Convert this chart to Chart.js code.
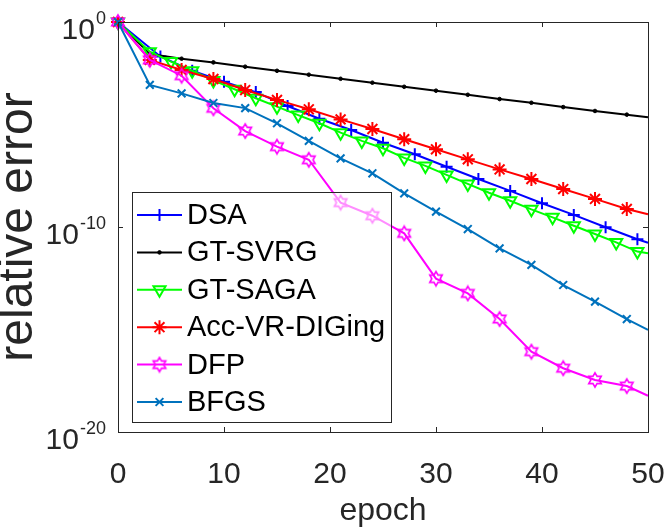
<!DOCTYPE html>
<html>
<head>
<meta charset="utf-8">
<script src="https://cdn.jsdelivr.net/npm/chart.js@4.4.1/dist/chart.umd.min.js"></script>
<style>
  html, body { margin: 0; padding: 0; background: #fff; }
  #wrap { width: 667px; height: 527px; position: relative; }
</style>
</head>
<body>
<div id="wrap"><canvas id="chart"></canvas></div>
<script>
// values, stored as log10(relative error)
const dsaEpochs = [0, 4, 7, 10, 13, 16, 19, 22, 25, 28, 31, 34, 37, 40, 43, 46, 49, 50];
const dsaLog = [0, -1.68, -2.38, -2.91, -3.42, -4.10, -4.72, -5.27, -5.89, -6.45, -7.06, -7.66, -8.24, -8.84, -9.41, -10.01, -10.60, -10.77];

const every3 = [0, 3, 6, 9, 12, 15, 18, 21, 24, 27, 30, 33, 36, 39, 42, 45, 48, 50];
const svrgLog = [0, -1.56, -1.79, -1.97, -2.18, -2.38, -2.57, -2.77, -2.96, -3.16, -3.35, -3.55, -3.76, -3.94, -4.15, -4.34, -4.52, -4.65];

const sagaEpochs = [0, 3, 5, 7, 9, 11, 13, 15, 17, 19, 21, 23, 25, 27, 29, 31, 33, 35, 37, 39, 41, 43, 45, 47, 49, 50];
const sagaLog = [0, -1.45, -1.93, -2.38, -2.85, -3.28, -3.72, -4.13, -4.54, -4.94, -5.40, -5.80, -6.16, -6.63, -7.02, -7.46, -7.90, -8.33, -8.72, -9.14, -9.53, -9.94, -10.34, -10.75, -11.20, -11.28];

const accLog = [0, -1.85, -2.34, -2.78, -3.32, -3.80, -4.26, -4.75, -5.22, -5.72, -6.21, -6.70, -7.19, -7.66, -8.15, -8.63, -9.12, -9.38];
const dfpLog = [0, -1.85, -2.62, -4.21, -5.32, -6.08, -6.72, -8.81, -9.45, -10.31, -12.52, -13.24, -14.49, -16.08, -16.89, -17.46, -17.76, -18.23];
const bfgsLog = [0, -3.07, -3.48, -3.95, -4.20, -4.94, -5.80, -6.65, -7.38, -8.36, -9.25, -10.10, -11.04, -11.85, -12.83, -13.64, -14.49, -15.02];

const xTicks = [0, 10, 20, 30, 40, 50];
const yTicks = [1e-20, 1e-10, 1];
const yTickExp = ['-20', '-10', '0'];

const FONT = "'Liberation Sans', Arial, Helvetica, sans-serif";
const AXIS = '#262626';

function toPoints(xs, logs) {
    return xs.map((x, i) => ({ x: x, y: Math.pow(10, logs[i]) }));
}

// hexagram marker (MATLAB 'h') as a small canvas
function makeHexagram(color) {
    const c = document.createElement('canvas');
    c.width = 18; c.height = 18;
    const g = c.getContext('2d');
    const R = 7.2, r = R / Math.sqrt(3);
    g.beginPath();
    for (let k = 0; k < 12; k++) {
        const a = -Math.PI / 2 + k * Math.PI / 6;
        const rr = k % 2 === 0 ? R : r;
        const px = 9 + rr * Math.cos(a), py = 9 + rr * Math.sin(a);
        if (k === 0) g.moveTo(px, py); else g.lineTo(px, py);
    }
    g.closePath();
    g.strokeStyle = color;
    g.lineWidth = 1.6;
    g.stroke();
    return c;
}
const hexagram = makeHexagram('#FF00FF');

// no marker on the final (epoch 50) point
const markerRadius = r => (ctx => (ctx.raw && ctx.raw.x === 50 ? 0 : r));

const datasets = [
    { label: 'DSA', data: toPoints(dsaEpochs, dsaLog), color: '#0000FF', style: 'cross', r: 6, bw: 2, order: 5 },
    { label: 'GT-SVRG', data: toPoints(every3, svrgLog), color: '#000000', style: 'circle', r: 1.8, bw: 1, fill: '#000000', order: 4 },
    { label: 'GT-SAGA', data: toPoints(sagaEpochs, sagaLog), color: '#00FF00', style: 'triangle', r: 7, bw: 2, rot: 180, order: 3 },
    { label: 'Acc-VR-DIGing', data: toPoints(every3, accLog), color: '#FF0000', style: 'star', r: 7, bw: 2, order: 2 },
    { label: 'DFP', data: toPoints(every3, dfpLog), color: '#FF00FF', style: hexagram, r: 7, bw: 1.6, order: 1 },
    { label: 'BFGS', data: toPoints(every3, bfgsLog), color: '#0072BD', style: 'crossRot', r: 5.5, bw: 2, order: 0 }
].map(d => ({
    label: d.label,
    data: d.data,
    borderColor: d.color,
    backgroundColor: d.color,
    borderWidth: 2,
    tension: 0,
    clip: false,
    order: d.order,
    pointStyle: d.style,
    pointRadius: markerRadius(d.r),
    pointHoverRadius: markerRadius(d.r),
    pointBorderWidth: d.bw,
    pointBorderColor: d.color,
    pointBackgroundColor: d.fill || 'rgba(0,0,0,0)',
    pointRotation: d.rot || 0,
    markerR: d.r,
    markerFill: d.fill || 'rgba(0,0,0,0)'
}));

// box, inward ticks and superscript y labels
const axesPlugin = {
    id: 'axesBox',
    afterDatasetsDraw(chart) {
        const { ctx, chartArea: a, scales } = chart;
        ctx.save();
        ctx.strokeStyle = AXIS;
        ctx.lineWidth = 1;
        ctx.strokeRect(a.left + 0.5, a.top + 0.5, a.right - a.left, a.bottom - a.top);
        const tl = 5;
        ctx.beginPath();
        xTicks.forEach(v => {
            const x = Math.round(scales.x.getPixelForValue(v)) + 0.5;
            ctx.moveTo(x, a.bottom); ctx.lineTo(x, a.bottom - tl);
            ctx.moveTo(x, a.top); ctx.lineTo(x, a.top + tl);
        });
        yTicks.forEach(v => {
            const y = Math.round(scales.y.getPixelForValue(v)) + 0.5;
            ctx.moveTo(a.left, y); ctx.lineTo(a.left + tl, y);
            ctx.moveTo(a.right, y); ctx.lineTo(a.right - tl, y);
        });
        ctx.stroke();

        ctx.fillStyle = AXIS;
        ctx.textBaseline = 'alphabetic';
        ctx.textAlign = 'left';
        yTicks.forEach((v, i) => {
            const y = scales.y.getPixelForValue(v);
            ctx.font = '18px ' + FONT;
            const supW = ctx.measureText(yTickExp[i]).width;
            ctx.font = '30px ' + FONT;
            const baseW = ctx.measureText('10').width;
            const right = a.left - 12;
            ctx.fillText('10', right - supW - baseW - 1, y + 16.5);
            ctx.font = '18px ' + FONT;
            ctx.fillText(yTickExp[i], right - supW, y + 1.5);
        });
        ctx.restore();
    }
};

// legend inside the axes, semi-transparent white box
const legendPlugin = {
    id: 'inLegend',
    afterDraw(chart) {
        const { ctx } = chart;
        const box = { left: 132, top: 192, right: 391, bottom: 422 };
        ctx.save();
        ctx.fillStyle = 'rgba(255,255,255,0.55)';
        ctx.fillRect(box.left, box.top, box.right - box.left, box.bottom - box.top);
        ctx.strokeStyle = AXIS;
        ctx.lineWidth = 1;
        ctx.strokeRect(box.left + 0.5, box.top + 0.5, box.right - box.left, box.bottom - box.top);
        chart.data.datasets.forEach((ds, i) => {
            const y = 215 + i * 37.4;
            ctx.strokeStyle = ds.borderColor;
            ctx.lineWidth = 2;
            ctx.beginPath();
            ctx.moveTo(137, y); ctx.lineTo(182, y);
            ctx.stroke();
            ctx.lineWidth = ds.pointBorderWidth;
            ctx.fillStyle = ds.markerFill;
            Chart.helpers.drawPoint(ctx, {
                pointStyle: ds.pointStyle,
                radius: ds.markerR,
                rotation: ds.pointRotation,
                borderWidth: ds.pointBorderWidth
            }, 159.5, y);
            ctx.fillStyle = '#000000';
            ctx.font = '29px ' + FONT;
            ctx.textBaseline = 'middle';
            ctx.textAlign = 'left';
            ctx.fillText(ds.label, 187, y + 1);
        });
        ctx.restore();
    }
};

new Chart(document.getElementById('chart'), {
    type: 'line',
    data: { datasets: datasets },
    options: {
        responsive: true,
        maintainAspectRatio: false,
        animation: false,
        devicePixelRatio: 1,
        layout: { padding: { top: 22, right: 19, left: 0, bottom: 0 } },
        plugins: { legend: { display: false }, tooltip: { enabled: false } },
        scales: {
            x: {
                type: 'linear',
                min: 0,
                max: 50,
                afterFit: s => { s.height = 95; s.paddingLeft = 0; s.paddingRight = 0; },
                afterBuildTicks: s => { s.ticks = xTicks.map(v => ({ value: v })); },
                grid: { display: false },
                border: { display: false },
                ticks: { font: { family: FONT, size: 30 }, color: AXIS, padding: 17, maxRotation: 0 },
                title: { display: true, text: 'epoch', font: { family: FONT, size: 32, lineHeight: 1 }, color: AXIS, padding: 0 }
            },
            y: {
                type: 'logarithmic',
                min: 1e-20,
                max: 1,
                afterFit: s => { s.width = 118; s.paddingTop = 0; s.paddingBottom = 0; },
                afterBuildTicks: s => { s.ticks = yTicks.map(v => ({ value: v })); },
                grid: { display: false },
                border: { display: false },
                ticks: { callback: () => '' },
                title: { display: true, text: 'relative error', font: { family: FONT, size: 48, lineHeight: 0.78 }, color: AXIS, padding: 0 }
            }
        }
    },
    plugins: [axesPlugin, legendPlugin]
});
</script>
</body>
</html>
